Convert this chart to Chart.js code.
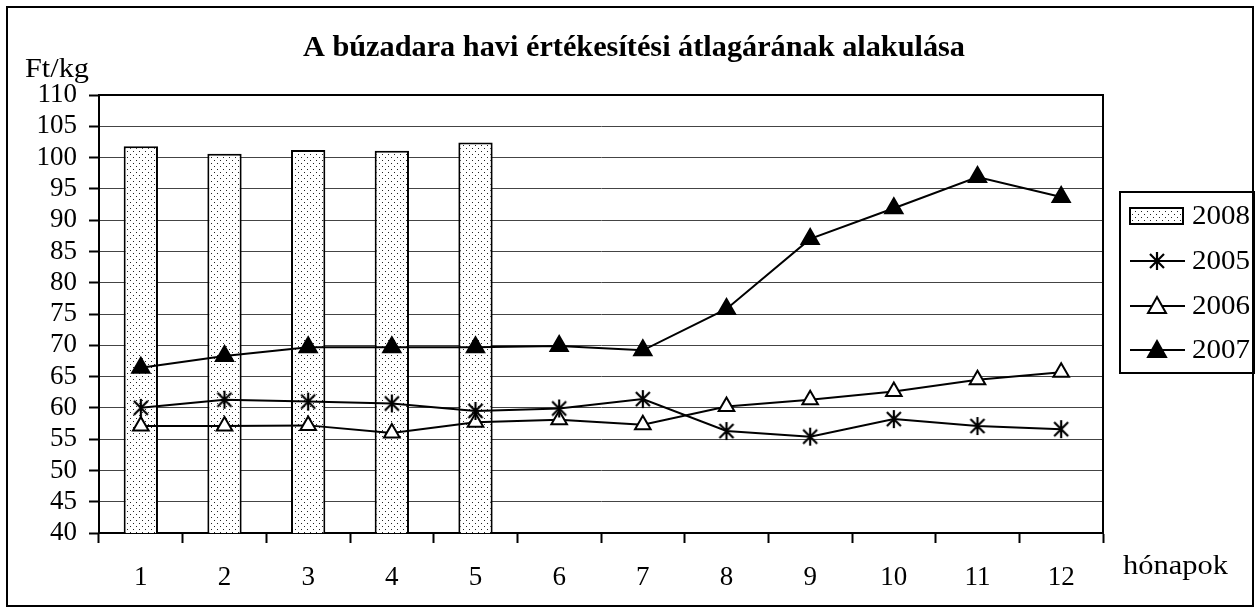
<!DOCTYPE html>
<html>
<head>
<meta charset="utf-8">
<script src="https://cdn.jsdelivr.net/npm/chart.js@4/dist/chart.umd.min.js"></script>
<style>
  body { margin: 0; background: #fff; }
</style>
</head>
<body>
<canvas id="myChart" width="1260" height="612"></canvas>
<script>
const months = ["1", "2", "3", "4", "5", "6", "7", "8", "9", "10", "11", "12"];
const values2008 = [101.8, 100.6, 101.2, 101.1, 102.4];
const values2005 = [60.0, 61.3, 61.0, 60.7, 59.5, 59.9, 61.4, 56.3, 55.4, 58.2, 57.1, 56.6];
const values2006 = [57.1, 57.1, 57.2, 56.0, 57.7, 58.1, 57.3, 60.2, 61.3, 62.6, 64.5, 65.7];
const values2007 = [66.4, 68.3, 69.7, 69.7, 69.7, 69.9, 69.2, 75.8, 87.0, 91.9, 96.9, 93.7];
const yTicks = { min: 40, max: 110, step: 5 };

const serif = "'Liberation Serif', 'Times New Roman', serif";
const ctx = document.getElementById('myChart');

// dotted fill for the 2008 bars
function dotPattern() {
	const c = document.createElement('canvas');
	c.width = 6; c.height = 6;
	const g = c.getContext('2d');
	g.fillStyle = '#fff';
	g.fillRect(0, 0, 6, 6);
	g.fillStyle = '#222';
	g.fillRect(1, 1, 1, 1);
	g.fillRect(4, 4, 1, 1);
	return g.createPattern(c, 'repeat');
}

// asterisk marker (X with a vertical stroke)
function starMarker() {
	const c = document.createElement('canvas');
	c.width = 20; c.height = 20;
	const g = c.getContext('2d');
	g.strokeStyle = '#000';
	g.lineWidth = 2.2;
	g.beginPath();
	g.moveTo(10, 1); g.lineTo(10, 19);
	g.moveTo(3, 3); g.lineTo(17, 17);
	g.moveTo(17, 3); g.lineTo(3, 17);
	g.stroke();
	return c;
}

const pattern = dotPattern();
const star = starMarker();

// text squeezed/stretched to the width it has in the original
function fitText(c, text, x, y, width, font, align) {
	c.save();
	c.font = font;
	const w = c.measureText(text).width;
	const k = width / w;
	const left = align === 'center' ? x - width / 2 : x;
	c.translate(left, y);
	c.scale(k, 1);
	c.textAlign = 'left';
	c.fillText(text, 0, 0);
	c.restore();
}

const decor = {
	id: 'decor',
	beforeDraw(chart) {
		const c = chart.ctx;
		c.save();
		c.fillStyle = '#fff';
		c.fillRect(0, 0, chart.width, chart.height);
		c.restore();
	},
	afterDraw(chart) {
		const c = chart.ctx;
		const a = chart.chartArea;
		c.save();
		c.strokeStyle = '#000';
		c.lineWidth = 2;
		// outer frame
		c.strokeRect(7, 7, 1246, 599);
		// top and right edge of plot
		c.beginPath();
		c.moveTo(a.left, a.top);
		c.lineTo(a.right, a.top);
		c.lineTo(a.right, a.bottom);
		c.stroke();

		c.fillStyle = '#000';
		c.textBaseline = 'middle';
		fitText(c, "A búzadara havi értékesítési átlagárának alakulása", 634, 48, 662, "bold 30px " + serif, 'center');
		fitText(c, "Ft/kg", 25, 70, 64, "27px " + serif, 'left');
		fitText(c, "hónapok", 1123, 567, 105, "27px " + serif, 'left');

		// legend
		c.lineWidth = 2;
		c.strokeRect(1120, 192, 134, 181);
		const items = [
			{ label: "2008", y: 216 },
			{ label: "2005", y: 261 },
			{ label: "2006", y: 306 },
			{ label: "2007", y: 350 }
		];
		items.forEach((it, i) => {
			if (i === 0) {
				c.fillStyle = pattern;
				c.fillRect(1130, it.y - 8, 53, 16);
				c.strokeRect(1130, it.y - 8, 53, 16);
			} else {
				c.beginPath();
				c.moveTo(1130, it.y);
				c.lineTo(1185, it.y);
				c.stroke();
				if (i === 1) {
					c.drawImage(star, 1157 - 10, it.y - 10);
				} else {
					c.beginPath();
					c.moveTo(1157, it.y - 9);
					c.lineTo(1166, it.y + 7);
					c.lineTo(1148, it.y + 7);
					c.closePath();
					c.fillStyle = i === 2 ? '#fff' : '#000';
					c.fill();
					c.stroke();
				}
			}
			c.fillStyle = '#000';
			fitText(c, it.label, 1192, it.y + 1, 58, "27px " + serif, 'left');
		});
		c.restore();
	}
};

new Chart(ctx, {
	type: 'bar',
	data: {
		labels: months,
		datasets: [{
			label: '2008',
			data: values2008,
			backgroundColor: pattern,
			borderColor: '#000',
			borderWidth: 2,
			borderSkipped: false,
			categoryPercentage: 1,
			barPercentage: 0.41,
			order: 10
		}, {
			type: 'line',
			label: '2005',
			data: values2005,
			borderColor: '#000',
			borderWidth: 2,
			pointStyle: star,
			order: 1
		}, {
			type: 'line',
			label: '2006',
			data: values2006,
			borderColor: '#000',
			borderWidth: 2,
			pointStyle: 'triangle',
			pointRadius: 9,
			pointBorderWidth: 2,
			pointBackgroundColor: '#fff',
			pointBorderColor: '#000',
			order: 2
		}, {
			type: 'line',
			label: '2007',
			data: values2007,
			borderColor: '#000',
			borderWidth: 2,
			pointStyle: 'triangle',
			pointRadius: 10,
			pointBorderWidth: 2,
			pointBackgroundColor: '#000',
			pointBorderColor: '#000',
			order: 3
		}]
	},
	options: {
		responsive: false,
		animation: false,
		layout: {
			padding: { top: 95, right: 157, left: 0, bottom: 0 }
		},
		plugins: {
			legend: { display: false },
			title: { display: false },
			tooltip: { enabled: false }
		},
		scales: {
			x: {
				afterFit: (s) => { s.height = 79; },
				grid: {
					offset: true,
					drawOnChartArea: false,
					drawTicks: true,
					tickLength: 10,
					tickColor: '#000',
					tickWidth: 2
				},
				border: { display: true, color: '#000', width: 2 },
				ticks: {
					color: '#000',
					padding: 19,
					font: { family: serif, size: 27 }
				}
			},
			y: {
				min: yTicks.min,
				max: yTicks.max,
				afterFit: (s) => { s.width = 99; },
				grid: {
					color: '#444',
					lineWidth: 1,
					tickLength: 10,
					tickColor: '#000',
					tickWidth: 2
				},
				border: { display: true, color: '#000', width: 2 },
				ticks: {
					stepSize: yTicks.step,
					autoSkip: false,
					color: '#000',
					padding: 12,
					font: { family: serif, size: 27 }
				}
			}
		}
	},
	plugins: [decor]
});
</script>
</body>
</html>
